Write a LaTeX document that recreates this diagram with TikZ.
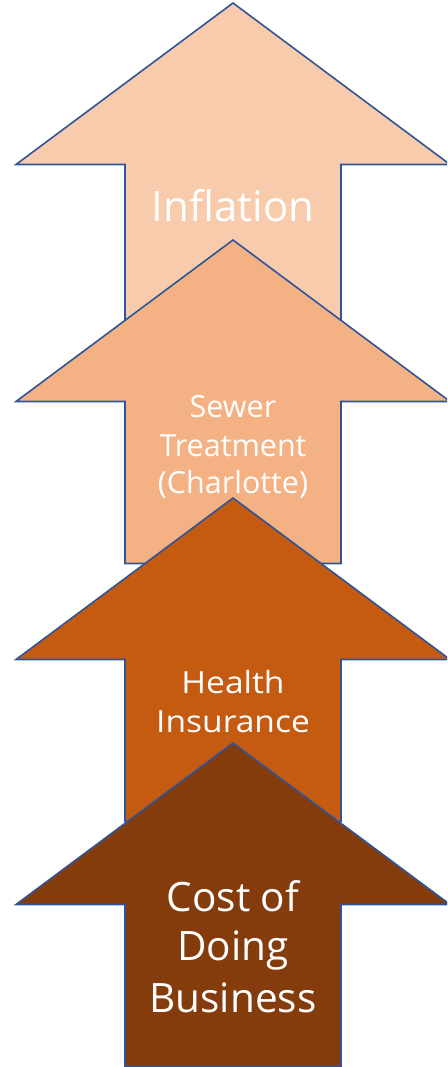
\documentclass[tikz,border=0pt]{standalone}
\usepackage{fontspec}
\setmainfont{Open Sans}
\newfontfamily\widefont[FakeStretch=1.1]{Open Sans}
\definecolor{aone}{HTML}{F8CBAD}
\definecolor{atwo}{HTML}{F4B183}
\definecolor{athree}{HTML}{C55A11}
\definecolor{afour}{HTML}{843C0C}
\definecolor{edge}{HTML}{2F5597}
\newcommand\uparrowpath[1]{(233,#1) -- (450,#1+161.5) -- (341,#1+161.5) -- (341,#1+323.5) -- (125,#1+323.5) -- (125,#1+161.5) -- (16,#1+161.5) -- cycle}
\begin{document}
\begin{tikzpicture}[x=1pt,y=-1pt,
  arrowshape/.style={draw=edge, line width=1.6pt, line join=miter},
  lbl/.style={text=white, anchor=base, inner sep=0pt}]
\useasboundingbox (0,0) rectangle (447,1067);
\clip (0,0) rectangle (447,1067);
% arrow 1
\draw[arrowshape, fill=aone] \uparrowpath{3};
\node[lbl, font=\fontsize{42}{50}\selectfont] (infl) at (233,222) {Inflation};
% arrow 2
\draw[arrowshape, fill=atwo] \uparrowpath{240};
\node[lbl, font=\fontsize{30.5}{36}\selectfont] (sewa) at (233,417) {Sewer};
\node[lbl, font=\fontsize{30.5}{36}\selectfont] (sewb) at (233,456) {Treatment};
\node[lbl, font=\fontsize{30.5}{36}\selectfont] (sewc) at (233,493) {(Charlotte)};
% arrow 3
\draw[arrowshape, fill=athree] \uparrowpath{498};
\node[lbl, font=\widefont\fontsize{30.5}{36}\selectfont] (hea) at (233,693) {Health};
\node[lbl, font=\widefont\fontsize{30.5}{36}\selectfont] (heb) at (233,732) {Insurance};
% arrow 4
\draw[arrowshape, fill=afour] \uparrowpath{743};
\node[lbl, font=\fontsize{40.5}{48}\selectfont] (cda) at (233,911) {Cost of};
\node[lbl, font=\fontsize{40.5}{48}\selectfont] (cdb) at (233,960) {Doing};
\node[lbl, font=\fontsize{40.5}{48}\selectfont] (cdc) at (233,1012) {Business};
\end{tikzpicture}
\end{document}
